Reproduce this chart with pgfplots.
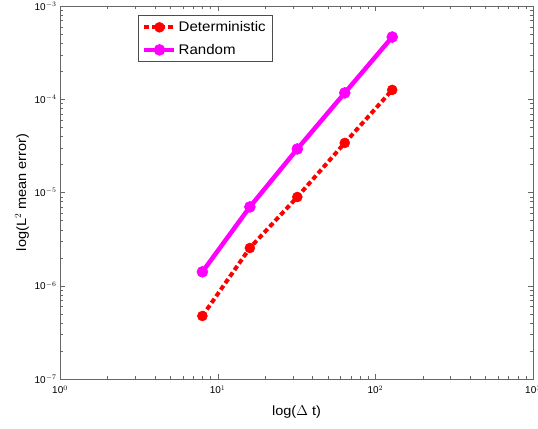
\documentclass[border=0pt]{standalone}
\usepackage{pgfplots}
\pgfplotsset{compat=1.18}
\usepackage{fontspec}
\setmainfont{Liberation Sans}
\newfontfamily\legfont[FakeStretch=1.08]{Liberation Sans}
\definecolor{mag}{rgb}{1,0,1}
\definecolor{axgray}{rgb}{0.4,0.4,0.4}
\begin{document}
\begin{tikzpicture}[x=1bp,y=1bp]
\begin{axis}[
    scale only axis,
    width=473bp, height=373bp,
    xmode=log, ymode=log,
    xmin=1, xmax=1000, ymin=1e-7, ymax=1e-3,
    axis line style={axgray},
    tick style={axgray},
    tick align=inside,
    major tick length=5bp, minor tick length=3bp,
    tick label style={font=\fontsize{10}{11}\selectfont, /pgf/number format/assume math mode=true},
    xtick={1,10,100,1000}, ytick={1e-7,1e-6,1e-5,1e-4,1e-3},
    xticklabels={10$^{0}$,10$^{1}$,10$^{2}$,10$^{3}$},
    yticklabels={10$^{-7}$,10$^{-6}$,10$^{-5}$,10$^{-4}$,10$^{-3}$},
    xticklabel style={yshift=-3bp},
    xlabel={log($\Delta$ t)},
    ylabel={log(L$^{2}$ mean error)},
    label style={font=\legfont\fontsize{13.5}{15}\selectfont},
    xlabel style={yshift=-5bp},
    ylabel style={yshift=-1bp},
    legend style={at={(0.165,0.975)}, anchor=north west, draw=black!70,
        font=\legfont\fontsize{14}{16}\selectfont, row sep=7bp,
        inner xsep=4bp, inner ysep=4bp},
    legend cell align=left,
    legend image code/.code={
        \draw[mark repeat=2,mark phase=2,#1] plot coordinates {(0bp,0bp) (15bp,0bp) (30bp,0bp)};},
]
\addplot[red, line width=4bp, dash pattern=on 5bp off 3bp, mark=*, mark size=5bp, mark options={solid, line width=0.5bp}]
coordinates {(8,4.74e-7) (16,2.54e-6) (32,8.95e-6) (64,3.40e-5) (128,1.26e-4)};
\addlegendentry{Deterministic}
\addplot[mag, line width=4.5bp, mark=*, mark size=5.5bp, mark options={line width=0.5bp}]
coordinates {(8,1.41e-6) (16,7.0e-6) (32,2.93e-5) (64,1.17e-4) (128,4.65e-4)};
\addlegendentry{Random}
\end{axis}
\pgfresetboundingbox
\path ([shift={(-60bp,-50bp)}]current axis.south west) rectangle ([shift={(5bp,6bp)}]current axis.north east);
\end{tikzpicture}
\end{document}
